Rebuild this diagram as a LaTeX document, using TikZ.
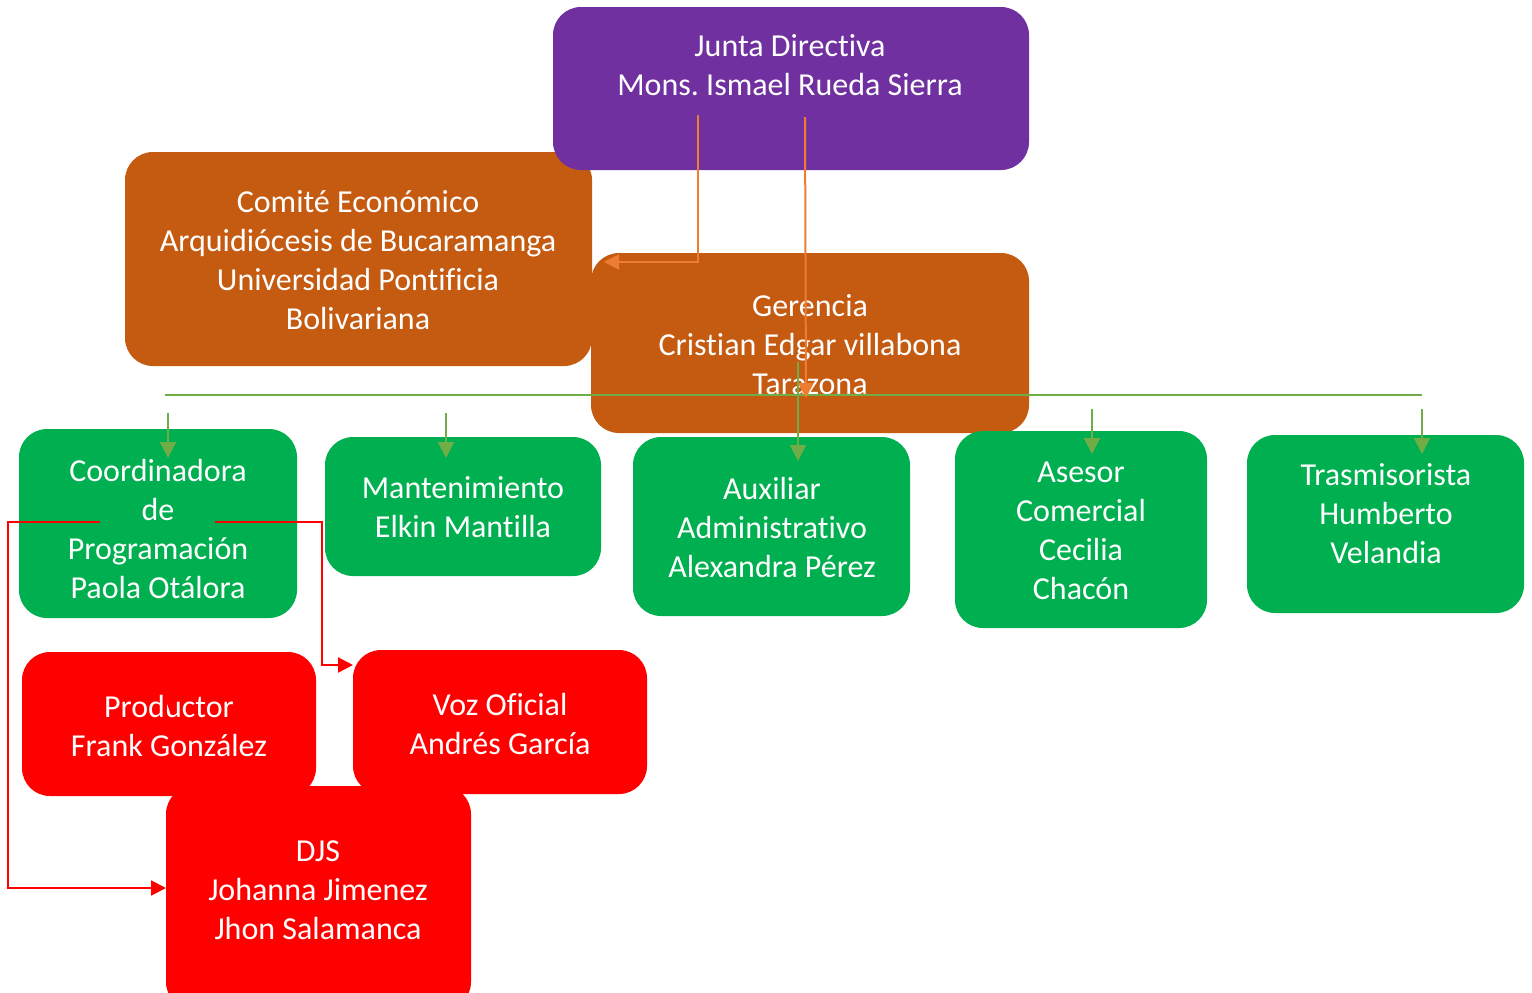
\documentclass[tikz,border=0pt]{standalone}
\usepackage{fontspec}
\setmainfont[RawFeature={-liga;-clig;-dlig;-calt}]{Carlito}
\frenchspacing
\usetikzlibrary{arrows.meta}
\definecolor{jpurple}{HTML}{7030A0}
\definecolor{jorange}{HTML}{C55A11}
\definecolor{jgreen}{HTML}{00B050}
\definecolor{jred}{HTML}{FF0000}
\definecolor{lorange}{HTML}{ED7D31}
\definecolor{lgreen}{HTML}{70AD47}
\begin{document}
\begin{tikzpicture}[x=0.5pt,y=-0.5pt,
  box/.style={rounded corners=14pt, draw=none, inner sep=0pt},
  txt/.style={text=white, align=center, font=\fontsize{16pt}{19.5pt}\selectfont, inner sep=0pt},
  oline/.style={draw=lorange, line width=1pt, -{Triangle[length=7.5pt,width=7.5pt]}},
  gline/.style={draw=lgreen, line width=0.8pt},
  garrow/.style={draw=lgreen, line width=1pt, -{Triangle[length=8pt,width=8pt]}},
  rline/.style={draw=jred, line width=1.1pt, -{Triangle[length=7.5pt,width=7.5pt]}}]
\useasboundingbox (0,0) rectangle (1532,992);
% boxes
\node[box, fill=jorange, minimum width=233.5pt, minimum height=107pt] (comite) at (358.5,259) {};
\node[box, fill=jpurple, minimum width=238pt, minimum height=81.5pt] (junta) at (791,88.5) {};
\node[box, fill=jorange, minimum width=219pt, minimum height=90pt] (gerencia) at (810,343) {};
\node[box, fill=jgreen, minimum width=139pt, minimum height=94.5pt] (coord) at (158,523.5) {};
\node[box, fill=jgreen, minimum width=138pt, minimum height=69.5pt] (mant) at (463,506.5) {};
\node[box, fill=jgreen, minimum width=138.5pt, minimum height=89.5pt] (aux) at (771.5,526.5) {};
\node[box, fill=jgreen, minimum width=126pt, minimum height=98.5pt] (asesor) at (1081,529.5) {};
\node[box, fill=jgreen, minimum width=138.5pt, minimum height=89pt] (trasm) at (1385.5,524) {};
\node[box, fill=jred, minimum width=152.5pt, minimum height=112pt] (djs) at (318.5,898) {};
\node[box, fill=jred, minimum width=147pt, minimum height=72pt] (prod) at (169,724) {};
\node[box, fill=jred, minimum width=147pt, minimum height=72pt] (voz) at (500,722) {};
% texts
\node[txt] (tjunta) at (790,65.5) {Junta Directiva\\Mons. Ismael Rueda Sierra};
\node[txt] (tcomite) at (358,260) {Comité Económico\\Arquidiócesis de Bucaramanga\\Universidad Pontificia\\Bolivariana};
\node[txt] (tgerencia) at (810,344.5) {Gerencia\\Cristian Edgar villabona\\Tarazona};
\node[txt] (tcoord) at (158,528.5) {Coordinadora\\de\\Programación\\Paola Otálora};
\node[txt] (tmant) at (463,507.5) {Mantenimiento\\Elkin Mantilla};
\node[txt] (taux) at (772,527.7) {Auxiliar\\Administrativo\\Alexandra Pérez};
\node[txt] (tasesor) at (1081,530.5) {Asesor\\Comercial\\Cecilia\\Chacón};
\node[txt] (ttrasm) at (1386,514) {Trasmisorista\\Humberto\\Velandia};
\node[txt] (tprod) at (169,725.5) {Productor\\Frank González};
\node[txt] (tvoz) at (500,723.5) {Voz Oficial\\Andrés García};
\node[txt] (tdjs) at (318,890) {DJS\\Johanna Jimenez\\Jhon Salamanca};
% coordinates
\coordinate (j1) at (698,115);
\coordinate (j1e) at (604,262);
\coordinate (j2) at (805,117);
\coordinate (j2e) at (806,398);
\coordinate (gl) at (165,395);
\coordinate (gr) at (1422,395);
\coordinate (r1) at (100,522);
\coordinate (r1c) at (8,888);
\coordinate (r1e) at (166,888);
\coordinate (r2) at (215,522);
\coordinate (r2c) at (322,665);
\coordinate (r2e) at (353,665);
% connectors
\draw[oline] (j1) |- (j1e);
\draw[gline] (gl) -- (gr);
\draw[oline] (j2) -- (j2e);
\draw[garrow] (168,413) -- (168,458);
\draw[garrow] (446,413) -- (446,458);
\draw[garrow] (798,362) -- (798,461);
\draw[garrow] (1092,409) -- (1092,454);
\draw[garrow] (1422,409) -- (1422,454);
\draw[rline] (r1) -| (r1c) -- (r1e);
\draw[rline] (r2) -| (r2c) -- (r2e);
\fill[jred] (166,701) -- (175,701) -- (170.5,713) -- cycle;
\end{tikzpicture}
\end{document}
